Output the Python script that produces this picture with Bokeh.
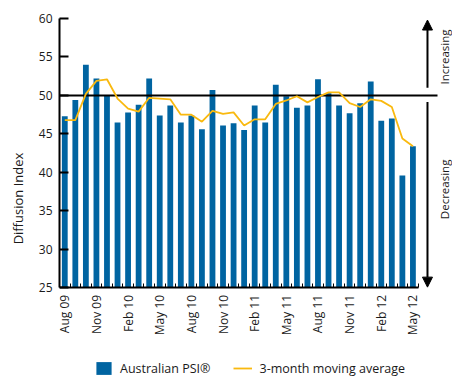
import math
from bokeh.plotting import figure
from bokeh.models import Range1d, FixedTicker, Legend, LegendItem, Arrow, NormalHead
from bokeh.core.properties import value
from bokeh.embed import file_html
from bokeh.resources import INLINE

# ---------------- data ----------------
months = ["Aug 09", "Sep 09", "Oct 09", "Nov 09", "Dec 09",
          "Jan 10", "Feb 10", "Mar 10", "Apr 10", "May 10", "Jun 10", "Jul 10",
          "Aug 10", "Sep 10", "Oct 10", "Nov 10", "Dec 10",
          "Jan 11", "Feb 11", "Mar 11", "Apr 11", "May 11", "Jun 11", "Jul 11",
          "Aug 11", "Sep 11", "Oct 11", "Nov 11", "Dec 11",
          "Jan 12", "Feb 12", "Mar 12", "Apr 12", "May 12"]

psi = [47.3, 49.4, 54.0, 52.2, 50.0, 46.5, 47.8, 48.8, 52.2, 47.4,
       48.7, 46.5, 47.4, 45.6, 50.7, 46.1, 46.4, 45.5, 48.7, 46.5,
       51.4, 49.9, 48.4, 48.7, 52.1, 50.3, 48.7, 47.7, 49.0, 51.8,
       46.7, 47.0, 39.6, 43.4]

moving_avg = [46.8, 46.8, 50.2, 51.9, 52.1, 49.6, 48.3, 47.9, 49.7, 49.6,
              49.5, 47.5, 47.5, 46.6, 48.0, 47.6, 47.8, 46.1, 46.9, 46.9,
              48.9, 49.35, 49.9, 49.1, 49.8, 50.4, 50.4, 49.0, 48.5, 49.5,
              49.3, 48.5, 44.4, 43.4]

tick_labels = ["Aug 09", "Nov 09", "Feb 10", "May 10", "Aug 10", "Nov 10",
               "Feb 11", "May 11", "Aug 11", "Nov 11", "Feb 12", "May 12"]

y_ticks = [25, 30, 35, 40, 45, 50, 55, 60]
threshold = 50

series_names = ["Australian PSI\u00ae", "3-month moving average"]
direction_labels = ["Increasing", "Decreasing"]

# ---------------- style / layout ----------------
BLUE = "#0064A1"
YELLOW = "#F9B90F"
FONT = "Open Sans"
TEXT_COL = "#1a1a1a"

WIDTH, HEIGHT = 452, 378
B_LEFT, B_TOP = 59, 18
FRAME_W = WIDTH - B_LEFT
FRAME_H = HEIGHT - B_TOP
PX_PER_X = 10.55
PX_PER_Y = 7.697
X_START = -0.5
X_END = X_START + FRAME_W / PX_PER_X
Y_TOP = 60
Y_BASE = 25
Y_MIN = Y_TOP - FRAME_H / PX_PER_Y

x = list(range(len(months)))
label_pos = [months.index(m) for m in tick_labels]

p = figure(width=WIDTH, height=HEIGHT,
           x_range=Range1d(X_START, X_END), y_range=Range1d(Y_MIN, Y_TOP),
           output_backend="svg", toolbar_location=None,
           min_border_left=B_LEFT, min_border_right=0,
           min_border_top=B_TOP, min_border_bottom=0)
p.outline_line_color = None
p.grid.visible = False
p.background_fill_color = "white"
p.border_fill_color = "white"

bars = p.vbar(x=x, top=psi, bottom=Y_BASE, width=0.55, fill_color=BLUE, line_color=None)
p.segment(x0=[X_START], y0=[threshold], x1=[35.33], y1=[threshold],
          line_color="black", line_width=2)
ma_line = p.line(x, moving_avg, line_color=YELLOW, line_width=1.8)

# direction arrows
ARROW_X = 34.38
p.add_layout(Arrow(end=NormalHead(size=10, fill_color="black", line_color="black"),
                   x_start=ARROW_X, y_start=51.0, x_end=ARROW_X, y_end=59.8,
                   line_width=2, line_color="black"))
p.add_layout(Arrow(end=NormalHead(size=10, fill_color="black", line_color="black"),
                   x_start=ARROW_X, y_start=49.15, x_end=ARROW_X, y_end=25.1,
                   line_width=2, line_color="black"))
p.text(x=[35.99, 35.99], y=[55.0, 37.8], text=direction_labels,
       angle=math.pi / 2, text_align="center", text_baseline="middle",
       text_font=value(FONT), text_font_size="11.5px", text_color=TEXT_COL)

# x axis (drawn at y = 25 inside the extended frame)
xa = p.xaxis[0]
xa.fixed_location = Y_BASE
xa.ticker = FixedTicker(ticks=label_pos,
                        minor_ticks=[i + 0.5 for i in range(-1, len(months))])
xa.major_label_overrides = {pos: lbl for pos, lbl in zip(label_pos, tick_labels)}
xa.major_label_orientation = math.pi / 2
xa.major_label_standoff = 7
xa.major_label_text_font = FONT
xa.major_label_text_font_size = "12px"
xa.major_label_text_color = TEXT_COL
xa.major_tick_in = 0
xa.major_tick_out = 0
xa.minor_tick_in = 4
xa.minor_tick_out = 0
xa.minor_tick_line_color = "black"
xa.minor_tick_line_width = 1
xa.axis_line_width = 2
xa.axis_line_color = "black"
xa.bounds = (-0.5, len(months) - 0.5)

# y axis
ya = p.yaxis[0]
ya.ticker = FixedTicker(ticks=y_ticks)
ya.major_tick_in = 9
ya.major_tick_out = 0
ya.major_tick_line_width = 2
ya.minor_tick_line_color = None
ya.axis_line_width = 2
ya.bounds = (Y_BASE, Y_TOP)
ya.major_label_standoff = 7
ya.major_label_text_font = FONT
ya.major_label_text_font_size = "12px"
ya.major_label_text_color = TEXT_COL
ya.axis_label = "Diffusion Index"
ya.axis_label_standoff = 9
ya.axis_label_text_font = FONT
ya.axis_label_text_font_size = "13px"
ya.axis_label_text_font_style = "normal"
ya.axis_label_text_color = TEXT_COL

legend = Legend(items=[LegendItem(label=series_names[0], renderers=[bars]),
                       LegendItem(label=series_names[1], renderers=[ma_line])],
                orientation="horizontal", location=(35, 1.5),
                glyph_width=19, glyph_height=16, label_standoff=7, spacing=23,
                padding=0, margin=0, border_line_color=None,
                background_fill_alpha=0,
                label_text_font=FONT, label_text_font_size="12.5px",
                label_text_color=TEXT_COL)
p.add_layout(legend, "center")

open("out.html", "w").write(file_html(p, INLINE))
